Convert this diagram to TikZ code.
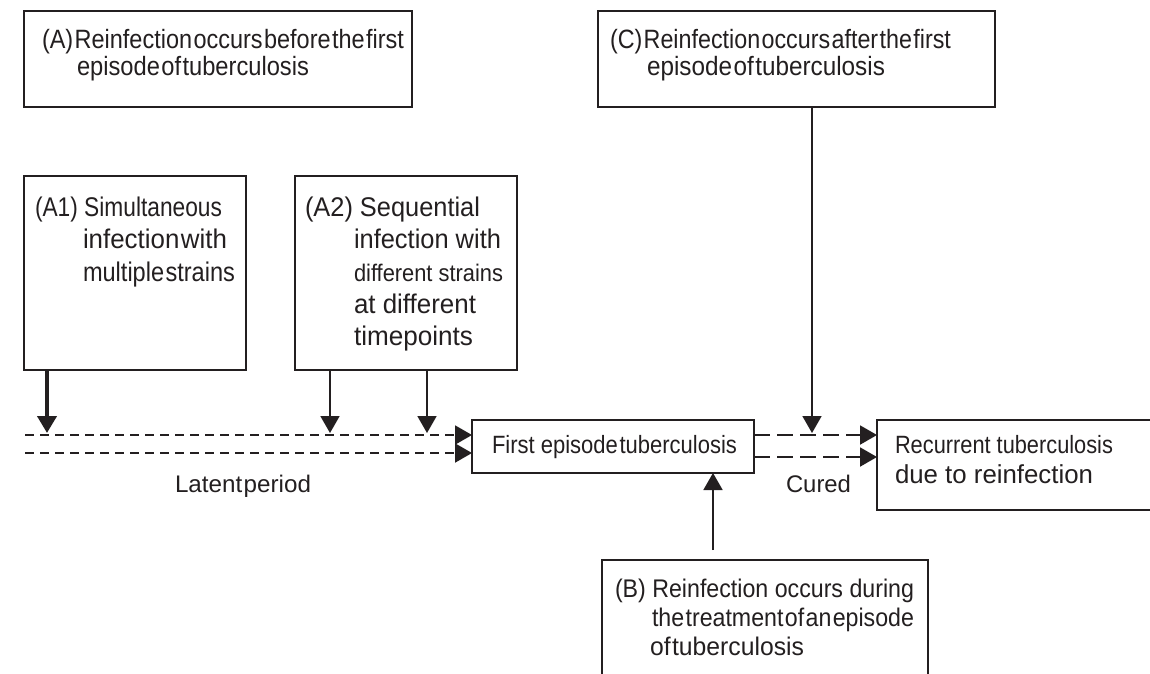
\documentclass[tikz,border=0pt]{standalone}
\usepackage{graphicx}
\usepackage{fontspec}
\setmainfont{Liberation Sans}
\usetikzlibrary{arrows.meta}
\definecolor{ink}{HTML}{231F20}
\newcommand\fs[1]{\fontsize{#1}{#1}\selectfont}
\newcommand\tightsp{\spaceskip=0.06em\relax}
\newcommand\fitw[2]{\resizebox{#1}{\height}{#2}}
\begin{document}
\begin{tikzpicture}[x=1pt,y=-1pt,
  box/.style={draw=ink, line width=2pt, rectangle, inner sep=0pt, outer sep=0pt, anchor=north west},
  txt/.style={text=ink, inner sep=0pt, outer sep=0pt, anchor=base west},
  conn/.style={draw=ink, line width=1.8pt, -{Triangle[width=19pt,length=17pt]}},
  dlat/.style={conn, line width=2pt, dash pattern=on 9pt off 6pt},
  dcur/.style={conn, line width=2pt, dash pattern=on 16pt off 7pt}
]
\fill[white] (0,0) rectangle (1150,673);
\useasboundingbox (0,0) rectangle (1150,673);

% boxes
\node[box, minimum width=388pt, minimum height=96pt] (A) at (24,11) {};
\node[box, minimum width=397pt, minimum height=96pt] (C) at (598,11) {};
\node[box, minimum width=222pt, minimum height=194pt] (A1) at (24,176) {};
\node[box, minimum width=222pt, minimum height=194pt] (A2) at (295,176) {};
\node[box, minimum width=282pt, minimum height=53pt] (first) at (472,420) {};
\node[box, minimum width=300pt, minimum height=90pt] (rec) at (877,420) {};
\node[box, minimum width=326pt, minimum height=130pt] (B) at (602,560) {};

% texts
\node[txt, font=\fs{26.5}\tightsp] (Al1) at (42,48) {\fitw{362pt}{(A) Reinfection occurs before the first}};
\node[txt, font=\fs{26.5}\tightsp] (Al2) at (77,75) {\fitw{232pt}{episode of tuberculosis}};
\node[txt, font=\fs{26.5}\tightsp] (Cl1) at (610,48) {\fitw{341pt}{(C) Reinfection occurs after the first}};
\node[txt, font=\fs{26.5}\tightsp] (Cl2) at (647,75) {\fitw{238pt}{episode of tuberculosis}};

\node[txt, font=\fs{27}] (A1l1) at (35,216) {\fitw{187pt}{(A1) Simultaneous}};
\node[txt, font=\fs{27}\tightsp] (A1l2) at (83,248) {\fitw{144pt}{infection with}};
\node[txt, font=\fs{27}\tightsp] (A1l3) at (83,281) {\fitw{152pt}{multiple strains}};

\node[txt, font=\fs{27}] (A2l1) at (305,216) {\fitw{175pt}{(A2) Sequential}};
\node[txt, font=\fs{27}] (A2l2) at (354,248) {\fitw{147pt}{infection with}};
\node[txt, font=\fs{24}] (A2l3) at (354,281) {\fitw{149pt}{different strains}};
\node[txt, font=\fs{27}] (A2l4) at (354,313) {\fitw{122pt}{at different}};
\node[txt, font=\fs{27}] (A2l5) at (354,345) {\fitw{119pt}{timepoints}};

\node[txt, font=\fs{25.5}] (Bl1) at (615,597) {\fitw{299pt}{(B) Reinfection occurs during}};
\node[txt, font=\fs{25.5}\tightsp] (Bl2) at (652,626) {\fitw{262pt}{the treatment of an episode}};
\node[txt, font=\fs{25.5}\tightsp] (Bl3) at (650,655) {\fitw{154pt}{of tuberculosis}};

\node[txt, font=\fs{25}] (firstt) at (492,453) {\fitw{245pt}{First episode \kern-0.2em tuberculosis}};
\node[txt, font=\fs{25}] (recl1) at (895,453) {\fitw{218pt}{Recurrent tuberculosis}};
\node[txt, font=\fs{26}] (recl2) at (895,483) {\fitw{198pt}{due to reinfection}};

\node[txt, font=\fs{24}\tightsp] (latent) at (175,492) {\fitw{136pt}{Latent period}};
\node[txt, font=\fs{24}] (cured) at (786,492) {\fitw{65pt}{Cured}};

% connectors
\coordinate (l1s) at (25,435);
\coordinate (l2s) at (25,453);
\draw[dlat] (l1s) -- (l1s -| first.west);
\draw[dlat] (l2s) -- (l2s -| first.west);

\coordinate (c1) at (760,435);
\coordinate (c2) at (760,457);
\draw[dcur] (first.east |- c1) -- (rec.west |- c1);
\draw[dcur] (first.east |- c2) -- (rec.west |- c2);

\coordinate (t1) at (47,433);
\coordinate (t2) at (330,433);
\coordinate (t3) at (427,433);
\coordinate (t4) at (812,433);
\draw[conn, line width=4pt] (t1 |- A1.south) -- (t1);
\draw[conn] (t2 |- A2.south) -- (t2);
\draw[conn] (t3 |- A2.south) -- (t3);
\draw[conn] (t4 |- C.south) -- (t4);

\coordinate (b0) at (713,550);
\draw[conn] (b0) -- (b0 |- first.south);
\end{tikzpicture}
\end{document}
